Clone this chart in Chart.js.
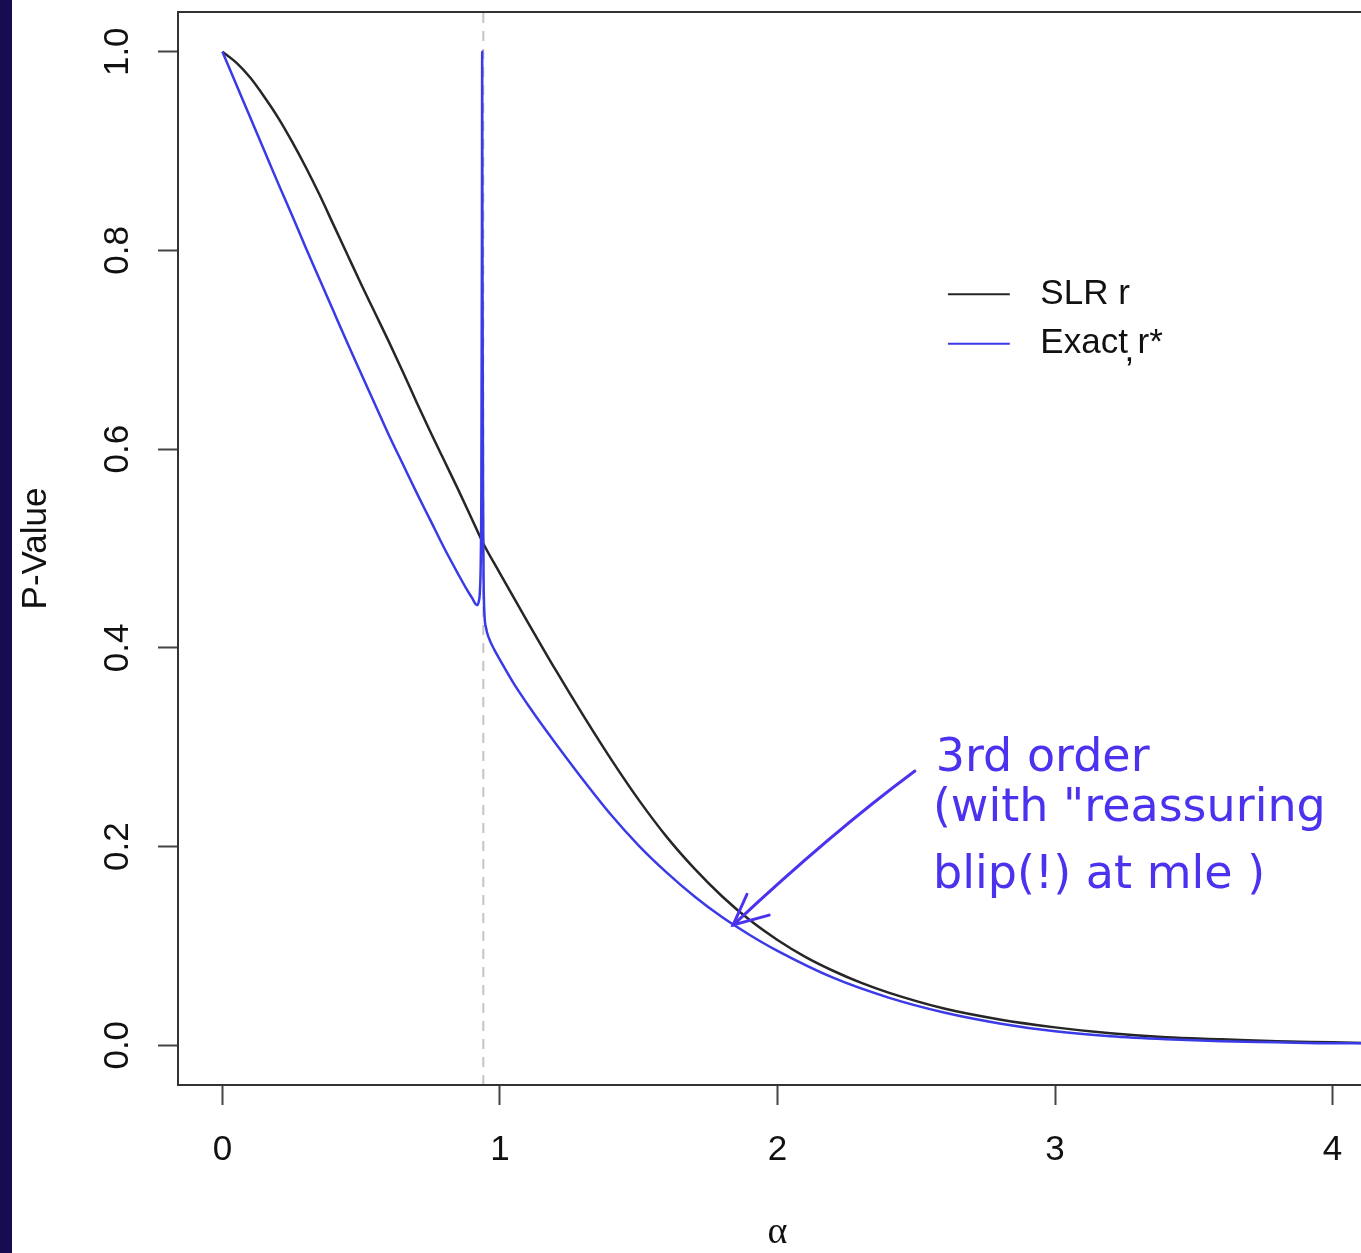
<!DOCTYPE html>
<html>
<head>
<meta charset="utf-8">
<script src="https://cdn.jsdelivr.net/npm/chart.js@4"></script>
<style>
  html, body { margin: 0; padding: 0; background: #fff; overflow: hidden; }
  #wrap { position: relative; width: 1361px; height: 1253px; overflow: hidden; }
  #strip { position: absolute; left: 0; top: 0; width: 12px; height: 1253px; background: #170b52; z-index: 2; }
  #chart { position: absolute; left: 0; top: 0; }
</style>
</head>
<body>
<div id="wrap">
  <div id="strip"></div>
  <div id="chart" style="width:1400px;height:1253px"><canvas id="c"></canvas></div>
</div>
<script>
// values
var alphaSLR = [0, 0.05, 0.1, 0.15, 0.2, 0.25, 0.3, 0.35, 0.4, 0.45, 0.5, 0.55, 0.6, 0.65, 0.7, 0.75, 0.8, 0.85, 0.9, 0.94,
  1.0, 1.1, 1.2, 1.3, 1.4, 1.5, 1.6, 1.7, 1.8, 1.9, 2.0, 2.1, 2.2, 2.3, 2.4, 2.6, 2.8, 3.0, 3.2, 3.4, 3.6, 3.8, 4.0, 4.16];
var pSLR = [1.000, 0.989, 0.974, 0.955, 0.934, 0.910, 0.884, 0.856, 0.826, 0.796, 0.766, 0.737, 0.708, 0.678, 0.647, 0.617, 0.588, 0.559, 0.529, 0.505,
  0.475, 0.426, 0.378, 0.332, 0.288, 0.247, 0.210, 0.178, 0.150, 0.126, 0.106, 0.089, 0.075, 0.063, 0.053, 0.037, 0.026, 0.018, 0.012, 0.008, 0.006, 0.004, 0.003, 0.002];

var alphaExact = [0, 0.05, 0.1, 0.15, 0.2, 0.25, 0.3, 0.35, 0.4, 0.45, 0.5, 0.55, 0.6, 0.65, 0.7, 0.75, 0.8, 0.85, 0.88, 0.9, 0.91,
  0.918, 0.924, 0.928, 0.931, 0.933, 0.935, 0.936, 0.937, 0.939, 0.941, 0.944, 0.95, 0.96, 0.98, 1.0, 1.05, 1.1, 1.15, 1.2,
  1.3, 1.4, 1.5, 1.6, 1.7, 1.8, 1.9, 2.0, 2.2, 2.4, 2.6, 2.8, 3.0, 3.2, 3.4, 3.6, 3.8, 4.0, 4.16];
var pExact = [1.000, 0.967, 0.934, 0.901, 0.868, 0.836, 0.803, 0.771, 0.739, 0.707, 0.676, 0.645, 0.614, 0.585, 0.556, 0.528, 0.500, 0.474, 0.459, 0.450, 0.445,
  0.443, 0.447, 0.458, 0.490, 0.560, 0.800, 1.000, 0.800, 0.560, 0.470, 0.435, 0.420, 0.410, 0.398, 0.388, 0.364, 0.343, 0.323, 0.304,
  0.267, 0.232, 0.201, 0.174, 0.150, 0.129, 0.111, 0.095, 0.068, 0.048, 0.033, 0.022, 0.014, 0.009, 0.006, 0.004, 0.003, 0.002, 0.002];

var mleAlpha = 0.94;
var xTicks = [0, 1, 2, 3, 4];
var yTicks = [0.0, 0.2, 0.4, 0.6, 0.8, 1.0];
var xRange = [-0.16, 4.16];
var yRange = [-0.04, 1.04];
var seriesNames = ['SLR r', 'Exact r*'];
var noteLines = ['3rd order', '(with "reassuring', 'blip(!) at mle )'];

function pts(xs, ys) {
  return xs.map(function (x, i) { return { x: x, y: ys[i] }; });
}

var BLACK = '#262626';
var BLUE = '#3a3ae6';
var INK = '#4a32ee';

var rStyle = {
  id: 'rStyle',
  afterDraw: function (chart) {
    var ctx = chart.ctx, a = chart.chartArea;
    var xs = chart.scales.x, ys = chart.scales.y;
    ctx.save();
    // box
    ctx.strokeStyle = '#333';
    ctx.lineWidth = 2;
    ctx.strokeRect(a.left, a.top, a.right - a.left, a.bottom - a.top);

    // tick labels
    ctx.fillStyle = '#111';
    ctx.font = '35px "Liberation Sans", Arial, sans-serif';
    ctx.textAlign = 'center';
    ctx.textBaseline = 'middle';
    xTicks.forEach(function (v) {
      ctx.fillText(String(v), xs.getPixelForValue(v), a.bottom + 65);
    });
    yTicks.forEach(function (v) {
      ctx.save();
      ctx.translate(a.left - 60, ys.getPixelForValue(v));
      ctx.rotate(-Math.PI / 2);
      ctx.fillText(v.toFixed(1), 0, 0);
      ctx.restore();
    });

    // axis titles
    ctx.save();
    ctx.translate(36, (a.top + a.bottom) / 2);
    ctx.rotate(-Math.PI / 2);
    ctx.fillText('P-Value', 0, 0);
    ctx.restore();
    ctx.font = '38px "Liberation Serif", serif';
    ctx.fillText('\u03b1', (a.left + a.right) / 2, a.bottom + 148);

    // legend
    ctx.font = '35px "Liberation Sans", Arial, sans-serif';
    ctx.textAlign = 'left';
    var legendY = [0.756, 0.706];
    var colors = [BLACK, BLUE];
    legendY.forEach(function (lv, i) {
      var y = ys.getPixelForValue(lv);
      ctx.strokeStyle = colors[i];
      ctx.lineWidth = 2;
      ctx.beginPath();
      ctx.moveTo(xs.getPixelForValue(2.614), y);
      ctx.lineTo(xs.getPixelForValue(2.837), y);
      ctx.stroke();
      ctx.fillStyle = '#111';
      ctx.fillText(seriesNames[i], xs.getPixelForValue(2.947), y);
    });
    // stray comma mark in the legend
    ctx.fillText(',', xs.getPixelForValue(3.25), ys.getPixelForValue(0.698));

    // handwritten note and arrow
    ctx.fillStyle = INK;
    ctx.strokeStyle = INK;
    ctx.font = '46px "DejaVu Sans", sans-serif';
    ctx.textBaseline = 'alphabetic';
    var noteY = [0.276, 0.226, 0.158];
    noteLines.forEach(function (t, i) {
      ctx.fillText(t, xs.getPixelForValue(2.57 - (i ? 0.01 : 0)), ys.getPixelForValue(noteY[i]));
    });
    var sx = xs.getPixelForValue(2.495), sy = ys.getPixelForValue(0.276);
    var tx = xs.getPixelForValue(1.84), ty = ys.getPixelForValue(0.121);
    ctx.lineWidth = 3;
    ctx.lineCap = 'round';
    ctx.beginPath();
    ctx.moveTo(sx, sy);
    ctx.quadraticCurveTo(xs.getPixelForValue(2.2), ys.getPixelForValue(0.215), tx, ty);
    ctx.stroke();
    ctx.beginPath();
    ctx.moveTo(xs.getPixelForValue(1.97), ys.getPixelForValue(0.131));
    ctx.lineTo(tx, ty);
    ctx.lineTo(xs.getPixelForValue(1.89), ys.getPixelForValue(0.152));
    ctx.stroke();
    ctx.restore();
  }
};

new Chart(document.getElementById('c'), {
  type: 'line',
  data: {
    datasets: [
      { label: seriesNames[1], data: pts(alphaExact, pExact), borderColor: BLUE, borderWidth: 2.5, cubicInterpolationMode: 'monotone' },
      { label: seriesNames[0], data: pts(alphaSLR, pSLR), borderColor: BLACK, borderWidth: 2.5, cubicInterpolationMode: 'monotone' },
      { label: 'mle', data: pts([mleAlpha, mleAlpha], yRange), borderColor: '#c4c4c4', borderWidth: 2, borderDash: [10, 8] }
    ]
  },
  options: {
    responsive: true,
    maintainAspectRatio: false,
    animation: false,
    elements: { point: { radius: 0 }, line: { tension: 0, fill: false } },
    layout: { padding: { left: 0, top: 12, right: 23, bottom: 0 } },
    plugins: { legend: { display: false }, tooltip: { enabled: false } },
    scales: {
      x: {
        type: 'linear', min: xRange[0], max: xRange[1],
        afterBuildTicks: function (s) { s.ticks = xTicks.map(function (v) { return { value: v }; }); },
        afterFit: function (s) { s.height = 168; },
        ticks: { display: false },
        border: { display: false },
        grid: { drawOnChartArea: false, drawTicks: true, tickLength: 20, tickWidth: 2, tickColor: '#444' }
      },
      y: {
        type: 'linear', min: yRange[0], max: yRange[1],
        afterBuildTicks: function (s) { s.ticks = yTicks.map(function (v) { return { value: v }; }); },
        afterFit: function (s) { s.width = 178; },
        ticks: { display: false },
        border: { display: false },
        grid: { drawOnChartArea: false, drawTicks: true, tickLength: 20, tickWidth: 2, tickColor: '#444' }
      }
    }
  },
  plugins: [rStyle]
});
</script>
</body>
</html>
